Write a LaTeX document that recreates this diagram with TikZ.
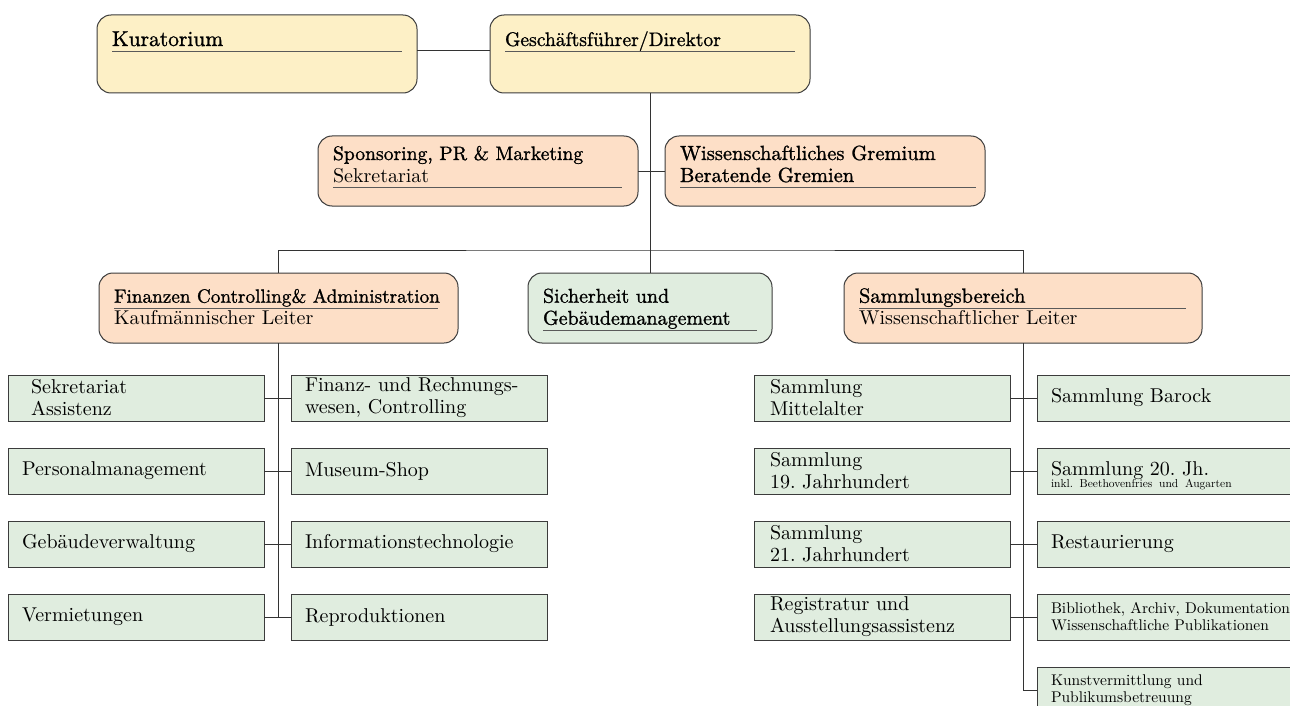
\documentclass[tikz,border=0pt]{standalone}
\usepackage{fontspec}
\usepackage{tikz}
\usetikzlibrary{positioning}
\newfontfamily\titlefont{lmroman10-regular.otf}[FakeBold=1.1]
\newfontfamily\bodyfont{lmroman10-regular.otf}
\definecolor{paleyellow}{HTML}{FDF0C6}
\definecolor{palepeach}{HTML}{FDDFC7}
\definecolor{palegreen}{HTML}{E0EDDF}
\definecolor{boxline}{HTML}{3C3C3C}
\definecolor{rulegray}{HTML}{5A5A5A}
\newcommand{\mainsize}{\bodyfont\frenchspacing\fontsize{20}{22}\selectfont}
\newcommand{\smallsize}{\bodyfont\frenchspacing\fontsize{15.5}{17}\selectfont}
\newcommand{\tinysize}{\fontsize{11.5}{14}\selectfont}
\newcommand{\ttl}[2][20.5]{{\titlefont\fontsize{#1}{22}\selectfont #2}}
% box text: width, height, top pad, lines
\newcommand{\headtext}[4]{\parbox[t][#2][t]{#1}{\mainsize\leftskip=15pt\rightskip=0pt plus 1fil\vspace*{#3}#4}}
\newcommand{\ruleline}[1]{\par\nointerlineskip\vspace{-1.5pt}\noindent{\color{rulegray}\rule{#1}{1.2pt}}\par\nointerlineskip}

\begin{document}
\begin{tikzpicture}[x=1pt, y=-1pt,
  org/.style={draw=boxline, line width=1pt, inner sep=0pt, outer sep=0pt, anchor=north west},
  topbox/.style={org, fill=paleyellow, rounded corners=14pt},
  headbox/.style={org, fill=palepeach, rounded corners=14pt},
  techbox/.style={org, fill=palegreen, rounded corners=14pt},
  unit/.style={org, fill=palegreen, minimum height=46pt, inner xsep=14pt, text width=228pt, align=left, font=\mainsize},
  collbox/.style={unit, inner xsep=16pt, text width=224pt},
  edgebox/.style={unit, text width=262pt},
  link/.style={draw=black!80, line width=1pt}]
		%%%%% START %%%%%
		\fill[white] (0,0) rectangle (1290,706);
		\useasboundingbox (0,0) rectangle (1290,706);
		
		\node[topbox] (kur) at (97,15) {\headtext{320pt}{78pt}{15.6pt}{\strut\ttl[21.5]{Kuratorium}\ruleline{290pt}}};
		\node[topbox] (gf) at (490,15) {\headtext{320pt}{78pt}{15.6pt}{\strut\ttl[19.6]{Geschäftsführer/Direktor}\ruleline{290pt}}};
		
		\node[headbox] (spon) at (318,136) {\headtext{320pt}{70pt}{8.6pt}{\strut\ttl[19.6]{Sponsoring, PR \& Marketing}\par\strut Sekretariat\ruleline{289pt}}};
		\node[headbox] (wiss) at (665,136) {\headtext{320pt}{70pt}{8.6pt}{\strut\ttl{Wissenschaftliches Gremium}\par\strut\ttl{Beratende Gremien}\ruleline{296pt}}};
		
		\node[headbox] (fin) at (99,273) {\headtext{359pt}{70pt}{14.3pt}{\strut\ttl[19.2]{Finanzen Controlling\& Administration}\ruleline{324pt}\strut Kaufmännischer Leiter}};
		\node[techbox] (sich) at (528,273) {\headtext{244pt}{70pt}{14.3pt}{\strut\ttl[20]{Sicherheit und}\par\strut\ttl[20]{Gebäudemanagement}\ruleline{214pt}}};
		\node[headbox] (sam) at (844,273) {\headtext{358pt}{70pt}{14.3pt}{\strut\ttl{Sammlungsbereich}\ruleline{327pt}\strut Wissenschaftlicher Leiter}};
		
		% Finanzen
		\node[unit, inner xsep=23pt, text width=210pt] (sek) at (8,375) {Sekretariat\\Assistenz};
		\node[unit] (fire) at (291,375) {\mbox{Finanz- und Rechnungs-}\\\mbox{wesen, Controlling}};
		\node[unit] (pers) at (8,448) {Personalmanagement};
		\node[unit] (shop) at (291,448) {Museum-Shop};
		\node[unit] (gebv) at (8,521) {Gebäudeverwaltung};
		\node[unit] (info) at (291,521) {Informationstechnologie};
		\node[unit] (verm) at (8,594) {Vermietungen};
		\node[unit] (repro) at (291,594) {Reproduktionen};
		
		% Sammlungen
		\node[collbox] (mitt) at (754,375) {Sammlung\\Mittelalter};
		\node[edgebox] (baro) at (1037,375) {Sammlung Barock};
		\node[collbox] (neun) at (754,448) {Sammlung\\19. Jahrhundert};
		\node[edgebox] (zwan) at (1037,448) {\rlap{\raisebox{-12pt}[0pt][0pt]{\tinysize inkl. Beethovenfries und Augarten}}Sammlung 20. Jh.};
		\node[collbox] (einu) at (754,521) {Sammlung\\21. Jahrhundert};
		\node[edgebox] (rest) at (1037,521) {Restaurierung};
		\node[collbox] (regi) at (754,594) {Registratur und\\Ausstellungsassistenz};
		\node[edgebox, font=\smallsize] (bibl) at (1037,594) {\mbox{Bibliothek, Archiv, Dokumentation}\\Wissenschaftliche Publikationen};
		\node[edgebox, font=\smallsize] (kunst) at (1037,667) {Kunstvermittlung und\\Publikumsbetreuung};
		
		\draw[link] ([yshift=3pt]kur.east) -- ([yshift=3pt]gf.west);
		\draw[link] (gf.south) -- (sich.north);
		\draw[link] (spon.east) -- (wiss.west);
		\coordinate (bus) at (650,250);
		\draw[link] (fin.north) |- (bus) -| (sam.north);
		\draw[link] (fin.south) -- (fin.south |- verm.east);
		\foreach \a/\b in {sek/fire, pers/shop, gebv/info, verm/repro}
			\draw[link] (\a.east) -- (\b.west);
		\draw[link] (sam.south) |- (kunst.west);
		\foreach \a/\b in {mitt/baro, neun/zwan, einu/rest, regi/bibl}
			\draw[link] (\a.east) -- (\b.west);
		%%%%% END %%%%%
\end{tikzpicture}
\end{document}
